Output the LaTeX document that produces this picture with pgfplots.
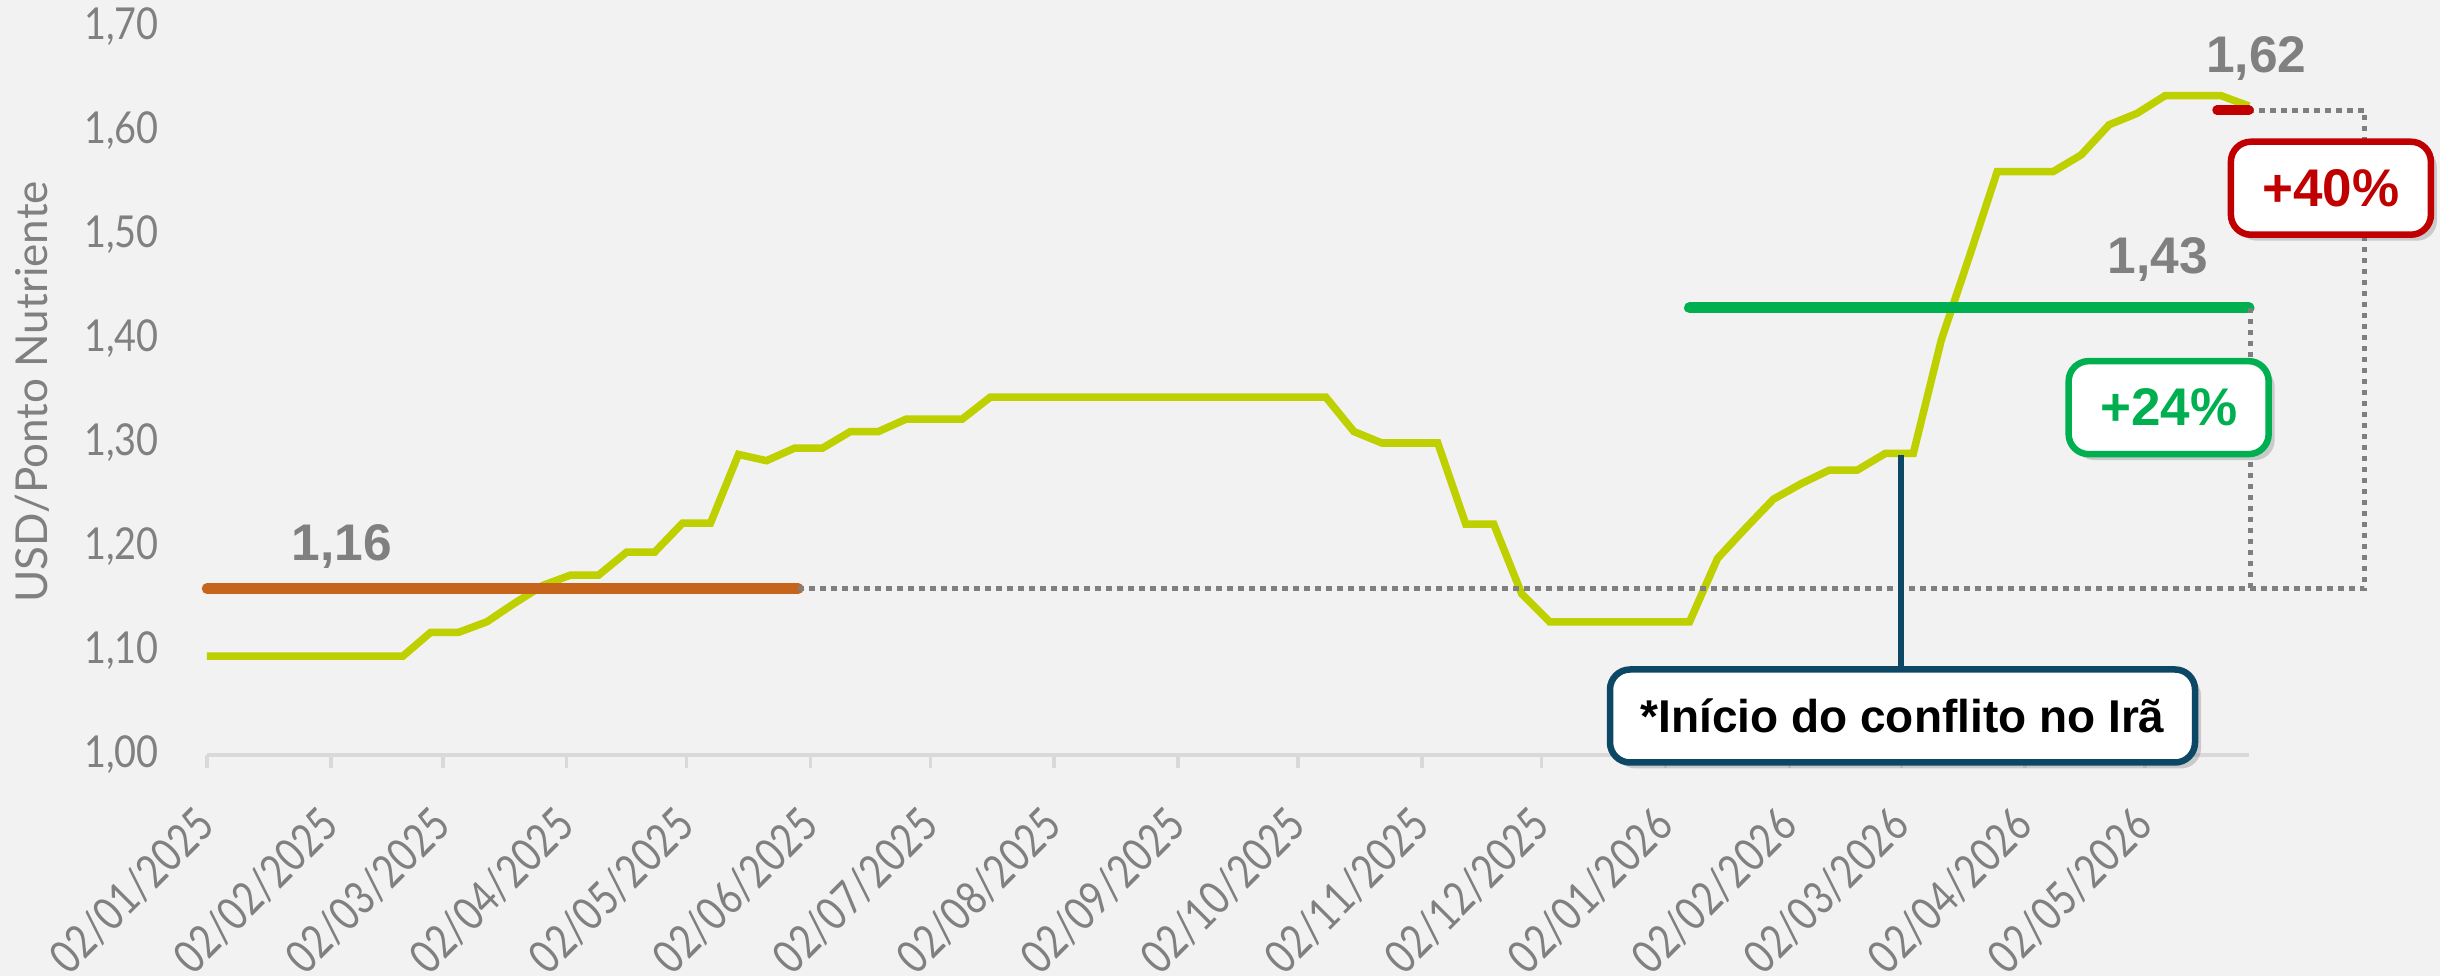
\documentclass[border=0pt]{standalone}
\usepackage{fontspec}
\setmainfont{Lato}
\newfontfamily\latoc{Lato}[FakeStretch=0.86]
\newfontfamily\latox{Lato}[FakeStretch=0.82]
\newfontfamily\lsb{Liberation Sans}
\usepackage{pgfplots}
\usepackage{pgfplotstable}
\pgfplotsset{compat=1.18}
\usetikzlibrary{shadows}

\definecolor{bg}{RGB}{242,242,242}
\definecolor{lime}{RGB}{190,208,0}
\definecolor{orng}{RGB}{198,100,28}
\definecolor{grn}{RGB}{0,176,80}
\definecolor{rd}{RGB}{192,0,0}
\definecolor{blu}{RGB}{12,71,102}
\definecolor{txtgray}{RGB}{128,128,128}
\definecolor{axgray}{RGB}{217,217,217}
\definecolor{dotgray}{RGB}{127,127,127}

\pgfplotstableread{
day val
0 1.095
7 1.095
14 1.095
21 1.095
28 1.095
35 1.095
42 1.095
49 1.095
56 1.118
63 1.118
70 1.128
77 1.146
84 1.163
91 1.173
98 1.173
105 1.195
112 1.195
119 1.223
126 1.223
133 1.289
140 1.283
147 1.295
154 1.295
161 1.311
168 1.311
175 1.323
182 1.323
189 1.323
196 1.344
203 1.344
210 1.344
217 1.344
224 1.344
231 1.344
238 1.344
245 1.344
252 1.344
259 1.344
266 1.344
273 1.344
280 1.344
287 1.311
294 1.300
301 1.300
308 1.300
315 1.222
322 1.222
329 1.155
336 1.128
343 1.128
350 1.128
357 1.128
364 1.128
371 1.128
378 1.189
385 1.218
392 1.246
399 1.261
406 1.274
413 1.274
420 1.290
427 1.290
434 1.399
441 1.479
448 1.561
455 1.561
462 1.561
469 1.577
476 1.606
483 1.617
490 1.634
497 1.634
504 1.634
511 1.624
}\price

\begin{document}
\begin{tikzpicture}
\fill[bg] (0,0) rectangle (488pt,195.2pt);
\begin{axis}[
  at={(41.4pt,44.2pt)}, anchor=south west,
  scale only axis, width=408.4pt, height=145.6pt,
  xmin=0, xmax=511, ymin=1.0, ymax=1.7,
  clip=false,
  axis x line*=bottom, axis y line*=left,
  y axis line style={draw=none},
  x axis line style={draw=axgray, line width=0.7pt},
  xtick style={draw=axgray, line width=0.7pt},
  ytick style={draw=none},
  tick align=outside, major tick length=2.6pt,
  xtick={0,31,59,90,120,151,181,212,243,273,304,334,365,396,424,455,485},
  xticklabels={02/01/2025,02/02/2025,02/03/2025,02/04/2025,02/05/2025,02/06/2025,02/07/2025,02/08/2025,02/09/2025,02/10/2025,02/11/2025,02/12/2025,02/01/2026,02/02/2026,02/03/2026,02/04/2026,02/05/2026},
  ytick={1.0,1.1,1.2,1.3,1.4,1.5,1.6,1.7},
  /pgf/number format/assume math mode=true,
  yticklabel style={/pgf/number format/.cd, use comma, fixed, fixed zerofill, precision=2, /tikz/.cd, font=\latoc\fontsize{8.8}{10}\selectfont, text=txtgray, xshift=-3.5pt},
  xticklabel style={font=\latox\fontsize{9.2}{10}\selectfont, text=txtgray, xshift=2.3pt, yshift=-7.3pt, rotate=45, anchor=east},
]
\addplot[lime, line width=1.5pt, line join=miter] table[x=day, y=val] {\price};
\addplot[orng, line width=2.1pt, line cap=round] coordinates {(0,1.16) (148,1.16)};
\addplot[grn, line width=2.2pt, line cap=round] coordinates {(371,1.43) (511,1.43)};
\addplot[dotgray, line width=1pt, dash pattern=on 1.1pt off 1.1pt] coordinates {(148,1.16) (540,1.16) (540,1.62) (511,1.62)};
\addplot[dotgray, line width=1pt, dash pattern=on 1.1pt off 1.1pt] coordinates {(511.5,1.43) (511.5,1.16)};
\addplot[rd, line width=1.9pt, line cap=round] coordinates {(503,1.62) (511,1.62)};
\addplot[blu, line width=1.2pt] coordinates {(424,1.288) (424,1.07)};

\node[font=\lsb\bfseries\fontsize{10.3}{12}\selectfont, text=txtgray] at (axis cs:33.7,1.200) {1,16};
\node[font=\lsb\bfseries\fontsize{10.3}{12}\selectfont, text=txtgray] at (axis cs:488.2,1.476) {1,43};
\node[font=\lsb\bfseries\fontsize{10.3}{12}\selectfont, text=txtgray] at (axis cs:512.8,1.670) {1,62};

\node[draw=grn, line width=1.3pt, fill=white, rounded corners=4pt, minimum width=40pt, minimum height=18.6pt, inner sep=0pt,
  drop shadow={shadow xshift=1.2pt, shadow yshift=-1.2pt, opacity=0.35},
  text=grn, font=\lsb\bfseries\fontsize{10.6}{12}\selectfont] at (axis cs:490.9,1.334) {+24\%};
\node[draw=rd, line width=1.3pt, fill=white, rounded corners=4pt, minimum width=40pt, minimum height=18.6pt, inner sep=0pt,
  drop shadow={shadow xshift=1.2pt, shadow yshift=-1.2pt, opacity=0.35},
  text=rd, font=\lsb\bfseries\fontsize{10.6}{12}\selectfont] at (axis cs:531.5,1.545) {+40\%};
\node[draw=blu, line width=1.3pt, fill=white, rounded corners=4pt, minimum width=117pt, minimum height=18.6pt, inner sep=0pt,
  drop shadow={shadow xshift=1.2pt, shadow yshift=-1.2pt, opacity=0.35},
  text=black, font=\lsb\bfseries\fontsize{9.2}{11}\selectfont] at (axis cs:424.3,1.0375) {*Início do conflito no Irã};
\end{axis}
\node[rotate=90, font=\fontsize{8.8}{10}\selectfont, text=txtgray] at (6.4pt,116.8pt) {USD/Ponto Nutriente};
\pgfresetboundingbox
\useasboundingbox (0,0) rectangle (488pt,195.2pt);
\end{tikzpicture}
\end{document}
